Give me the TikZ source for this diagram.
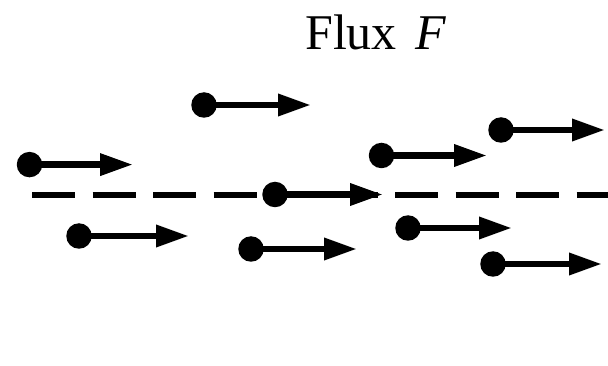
\documentclass[tikz,border=0pt]{standalone}
\usepackage{fontspec}
\setmainfont{Liberation Serif}
\usetikzlibrary{arrows.meta}
\tikzset{
  ball/.style={circle,fill=black,inner sep=0pt,minimum size=25.5pt},
  flux/.style={line width=6.5pt,-{Triangle[length=33pt,width=21pt]}},
  refline/.style={line width=5.5pt,dash pattern=on 43pt off 17.5pt}
}
\begin{document}
\begin{tikzpicture}[x=1pt,y=-1pt]
\useasboundingbox (0,0) rectangle (608,366);
\node[anchor=base west,font=\fontsize{50}{56}\selectfont,inner sep=0pt] (title) at (305,50) {Flux\hspace{19pt}\textit{F}};
\coordinate (l0) at (32,195);
\coordinate (l1) at (608,195);
\draw[refline] (l0) -- (l1);
\foreach \n/\bx/\by/\tx in {1/204/105/311, 2/29.5/164.6/133, 3/275/194.5/383, 4/79/236/189, 5/251/249/357, 6/381.5/155.5/487, 7/501/130/605, 8/408/228/512, 9/493/264/602}{
  \node[ball] (b\n) at (\bx,\by) {};
  \coordinate (t\n) at (\tx,\by);
  \draw[flux] (b\n.center) -- (t\n);
}
\end{tikzpicture}
\end{document}
